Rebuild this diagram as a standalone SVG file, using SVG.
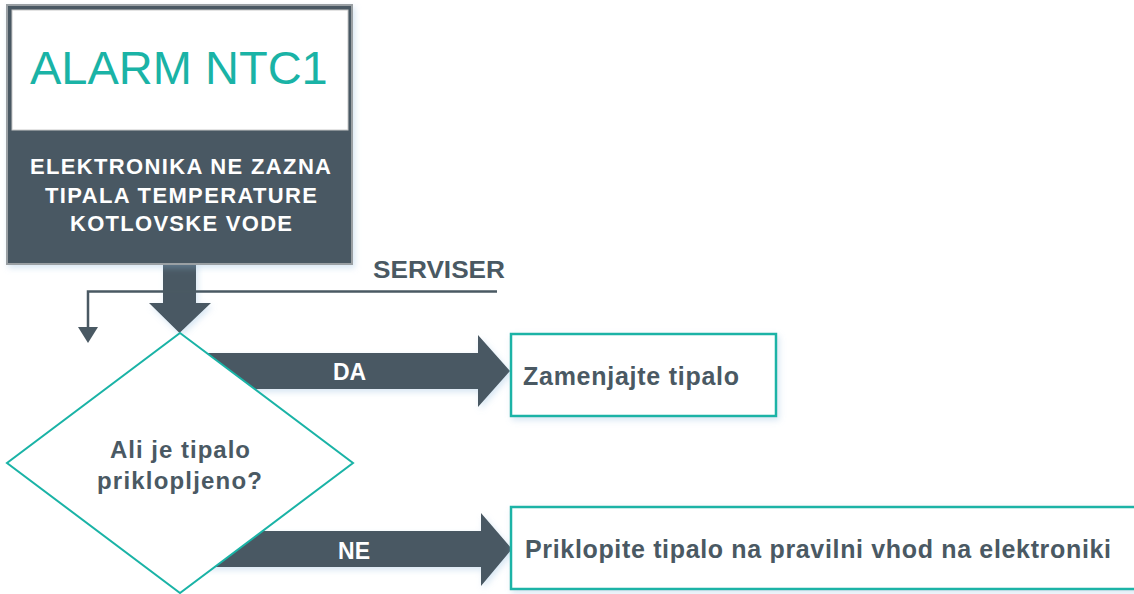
<svg xmlns="http://www.w3.org/2000/svg" width="1134" height="594" viewBox="0 0 1134 594">
<defs>
<filter id="sh" x="-10%" y="-10%" width="130%" height="130%">
<feDropShadow dx="2" dy="3" stdDeviation="3" flood-color="#8fb8dc" flood-opacity="0.35"/>
</filter>
<style>
.dark{fill:#4A5963}
.box{fill:#ffffff;stroke:#1AB3A6;stroke-width:2.5}
.t{font-family:"Liberation Sans",Arial,sans-serif;font-weight:bold}
.g{fill:#4A5963}
.w{fill:#ffffff}
.thin{fill:none;stroke:#4A5963;stroke-width:2.5}
</style>
</defs>
<rect width="1134" height="594" fill="#ffffff"/>

<g id="connectors">
<polygon class="dark" filter="url(#sh)" points="163,262 196,262 196,303 211,303 179.5,333 149,303 163,303"/>
<polygon class="dark" filter="url(#sh)" points="180,353 478,353 478,335 510,371 478,407 478,389 180,389"/>
<polygon class="dark" filter="url(#sh)" points="200,531 481,531 481,513 512,549 481,586 481,567 200,567"/>
<polyline class="thin" points="497,291.5 88,291.5 88,328"/>
<polygon class="dark" points="78,327 98,327 88,343"/>
<text class="t w" x="349.5" y="380" font-size="23" text-anchor="middle">DA</text>
<text class="t w" x="354" y="559" font-size="23" text-anchor="middle">NE</text>
<text class="t g" x="373" y="278" font-size="23" textLength="132" lengthAdjust="spacingAndGlyphs">SERVISER</text>
</g>

<g id="alarm">
<rect x="7" y="5" width="345" height="259" fill="#4A5963" stroke="#9aa0a4" stroke-width="2" filter="url(#sh)"/>
<rect x="12" y="10" width="336" height="120" fill="#ffffff" stroke="#c8c8c8" stroke-width="1"/>
<text x="30" y="84" font-family="Liberation Sans,Arial,sans-serif" font-size="47" fill="#1AB3A6">ALARM NTC1</text>
<text class="t w" x="180.5" y="174" font-size="22" text-anchor="middle" textLength="301" lengthAdjust="spacing">ELEKTRONIKA NE ZAZNA</text>
<text class="t w" x="181" y="202.5" font-size="22" text-anchor="middle" textLength="272" lengthAdjust="spacing">TIPALA TEMPERATURE</text>
<text class="t w" x="181" y="231" font-size="22" text-anchor="middle" textLength="222" lengthAdjust="spacing">KOTLOVSKE VODE</text>
</g>

<g id="decision">
<polygon points="180,333 353,463 180,593 7,463" fill="#ffffff" stroke="#1AB3A6" stroke-width="2"/>
<text class="t g" x="180" y="458" font-size="24" text-anchor="middle" textLength="140" lengthAdjust="spacing">Ali je tipalo</text>
<text class="t g" x="179.5" y="489" font-size="24" text-anchor="middle" textLength="165" lengthAdjust="spacing">priklopljeno?</text>
</g>

<g id="zamenjajte">
<rect class="box" x="511" y="334" width="265" height="82" filter="url(#sh)"/>
<text class="t g" x="523" y="385" font-size="25" textLength="216" lengthAdjust="spacing">Zamenjajte tipalo</text>
</g>

<g id="priklopite">
<rect class="box" x="511" y="507" width="640" height="82" filter="url(#sh)"/>
<text class="t g" x="525" y="557.5" font-size="25" textLength="586" lengthAdjust="spacing">Priklopite tipalo na pravilni vhod na elektroniki</text>
</g>
</svg>
